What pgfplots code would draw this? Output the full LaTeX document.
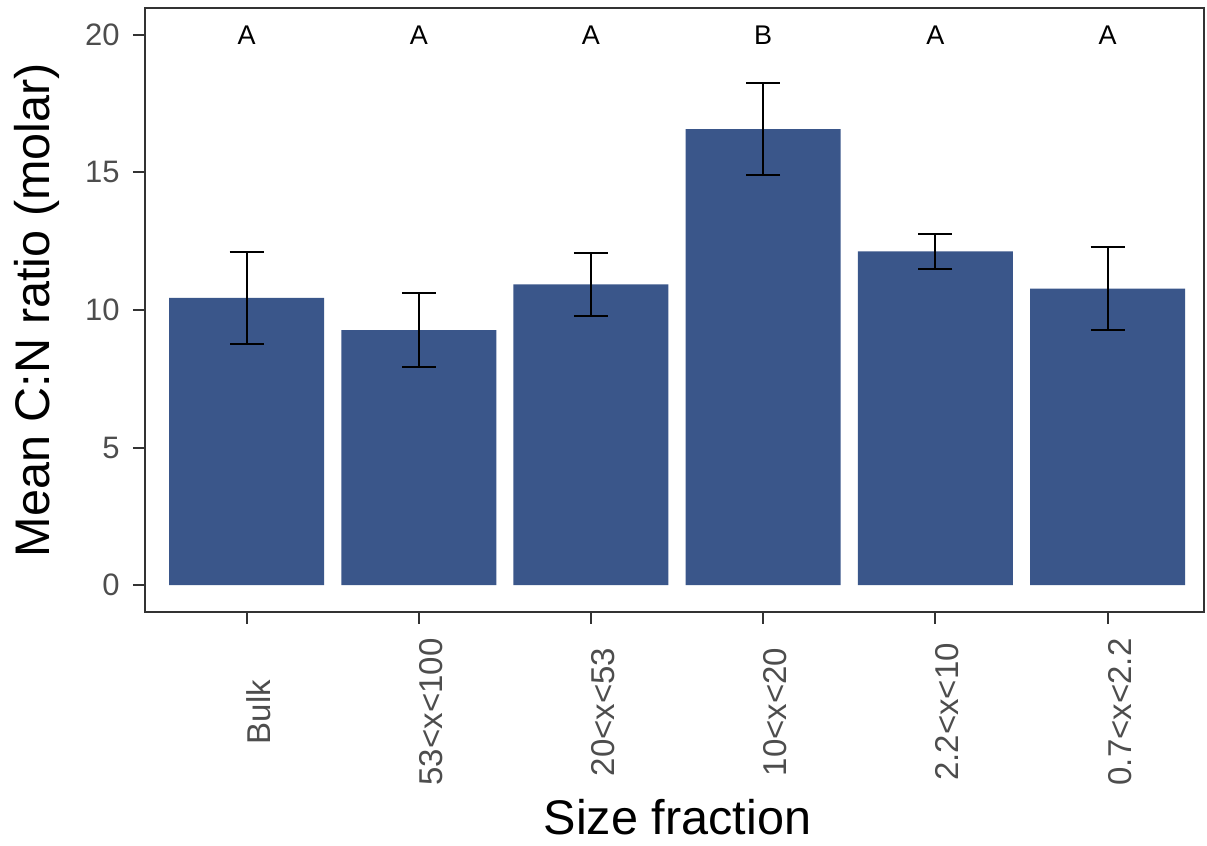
\documentclass[border=0pt]{standalone}
\usepackage{fontspec}
\setmainfont{Liberation Sans}
\usepackage{pgfplots}
\pgfplotsset{compat=1.18}
\usepackage{pgfplotstable}

\definecolor{barblue}{RGB}{58,86,138}
\definecolor{axisgray}{RGB}{51,51,51}
\definecolor{ticktext}{RGB}{77,77,77}

% mean molar C:N ratio per size fraction, with the error half-width
\pgfplotstableread{
x mean err
0 10.44 1.67
1 9.27 1.35
2 10.93 1.15
3 16.58 1.67
4 12.13 0.64
5 10.78 1.51
}\cnratio

\begin{document}
\begin{tikzpicture}
\useasboundingbox (-72.5pt,-117pt) rectangle (531pt,306pt);
\begin{axis}[
  at={(0,0)}, anchor=south west,
  scale only axis, width=529.5pt, height=302pt,
  xmin=-0.59, xmax=5.56, ymin=-0.98, ymax=20.98,
  xtick={0,1,2,3,4,5},
  xticklabels={Bulk,53<x<100,20<x<53,10<x<20,2.2<x<10,0.7<x<2.2},
  ytick={0,5,10,15,20},
  xtick pos=left, ytick pos=left,
  tick align=outside,
  major tick length=6pt,
  tick style={axisgray, line width=1pt},
  axis line style={axisgray, line width=1.1pt},
  /pgf/number format/assume math mode=true,
  yticklabel style={font=\fontsize{15.5}{15.5}\selectfont, text=ticktext, inner sep=0pt},
  yticklabel shift=6.5pt,
  xticklabel style={font=\fontsize{16.5}{16.5}\selectfont, text=ticktext, inner sep=0pt, rotate=90, anchor=north},
  xticklabel shift=44pt,
  xlabel={Size fraction},
  xlabel style={at={(axis description cs:0.5,0)}, anchor=base, yshift=-111.5pt, xshift=1.5pt, font=\fontsize{24.3}{24.3}\selectfont},
  ylabel={Mean C:N ratio (molar)},
  ylabel style={at={(axis description cs:0,0.5)}, anchor=base, yshift=47.5pt, font=\fontsize{24.3}{24.3}\selectfont},
]
\addplot[ybar, bar width=0.9, bar shift=0pt, fill=barblue, draw=none,
  error bars/.cd, y dir=both, y explicit,
  error mark=|,
  error bar style={line width=1pt, black},
  error mark options={mark size=8.5pt, line width=1pt, black}]
  table[x=x, y=mean, y error=err] {\cnratio};

\node[font=\fontsize{13.5}{13.5}\selectfont] at (axis cs:0,20) {A};
\node[font=\fontsize{13.5}{13.5}\selectfont] at (axis cs:1,20) {A};
\node[font=\fontsize{13.5}{13.5}\selectfont] at (axis cs:2,20) {A};
\node[font=\fontsize{13.5}{13.5}\selectfont] at (axis cs:3,20) {B};
\node[font=\fontsize{13.5}{13.5}\selectfont] at (axis cs:4,20) {A};
\node[font=\fontsize{13.5}{13.5}\selectfont] at (axis cs:5,20) {A};
\end{axis}
\end{tikzpicture}
\end{document}
